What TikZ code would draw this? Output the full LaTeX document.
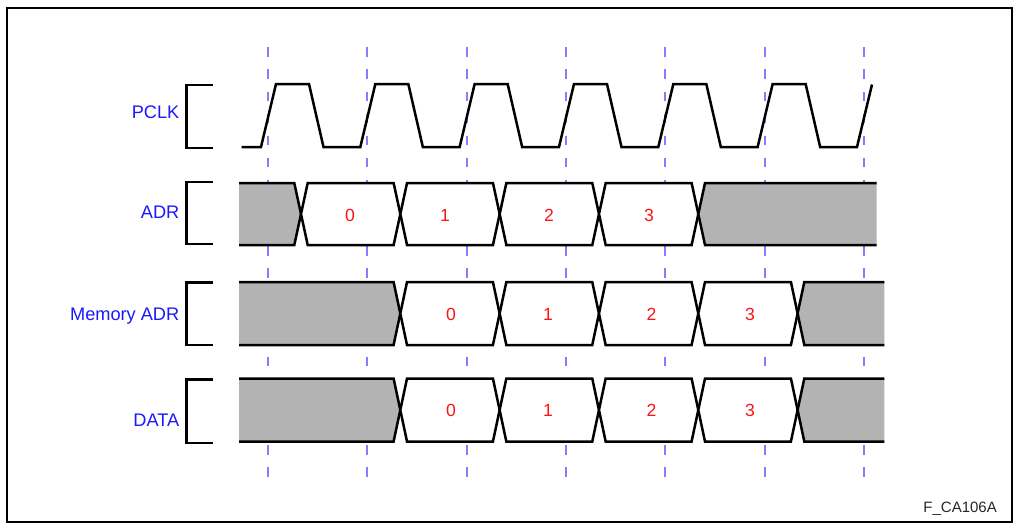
\documentclass[tikz,border=0pt]{standalone}
\usepackage{fontspec}
\setmainfont{Liberation Sans}
\definecolor{dashblue}{RGB}{128,128,255}
\definecolor{lblblue}{RGB}{25,25,250}
\definecolor{busgray}{RGB}{179,179,179}
\definecolor{digred}{RGB}{250,20,20}
\begin{document}
\begin{tikzpicture}[x=1pt,y=-1pt,
  sig/.style={line width=2.5pt,line join=miter,black},
  brk/.style={line width=2.6pt,black},
  dashline/.style={line width=2pt,dashblue,dash pattern=on 9.5pt off 12.6pt},
  lbl/.style={anchor=base east,inner sep=0pt,text=lblblue,font=\fontsize{18.2}{20}\selectfont},
  dig/.style={anchor=base,inner sep=0pt,text=digred,font=\fontsize{17.6}{20}\selectfont},
  frame/.style={line width=2pt,black}]
\useasboundingbox (0,0) rectangle (1013,523);
\draw[frame] (6.5,7.5) rectangle (1011.8,521.8);
% dashed clock-edge markers
\foreach \k in {0,...,6}{
  \draw[dashline] ({268+99.33*\k},47.3) -- ({268+99.33*\k},477);
}
% brackets
\foreach \yt/\yb in {85/148, 182/244, 282.7/345, 379.3/443}{
  \draw[brk] (213,\yt) -- (186.3,\yt) -- (186.3,\yb) -- (213,\yb);
}
% labels
\node[lbl] (pclk) at (179.5,118.3) {PCLK};
\node[lbl] (adr) at (179.5,218.3) {ADR};
\node[lbl] (madr) at (179.5,320) {Memory ADR};
\node[lbl] (data) at (179.5,426) {DATA};
% clock
\draw[sig] (241.7,147) \foreach \k in {0,...,5}{
  -- ({268+99.33*\k-7},147) -- ({268+99.33*\k+8},84) -- ({268+99.33*\k+41},84) -- ({268+99.33*\k+55.5},147)}
  -- (857,147) -- (872,84.5);
% ---------- ADR bus ----------
\def\h{6.7}
% leading gray
\fill[busgray] (239,183) -- (301-\h,183) -- (301,214) -- (301-\h,245) -- (239,245) -- cycle;
\draw[sig] (239,183) -- (301-\h,183) -- (301,214) -- (301-\h,245) -- (239,245);
\foreach \j/\d/\dx in {0/0/350,1/1/445,2/2/549,3/3/649}{
  \pgfmathsetmacro\ca{301+99.33*\j}
  \pgfmathsetmacro\cb{301+99.33*(\j+1)}
  \filldraw[sig,fill=white] (\ca,214) -- (\ca+\h,183) -- (\cb-\h,183) -- (\cb,214) -- (\cb-\h,245) -- (\ca+\h,245) -- cycle;
  \node[dig] (adr\d) at (\dx,221.7) {\d};
}
% trailing gray
\fill[busgray] (876.7,183) -- (698.3+\h,183) -- (698.3,214) -- (698.3+\h,245) -- (876.7,245) -- cycle;
\draw[sig] (876.7,183) -- (698.3+\h,183) -- (698.3,214) -- (698.3+\h,245) -- (876.7,245);
% ---------- Memory ADR and DATA buses ----------
\foreach \nm/\yt/\ym/\yb/\yd in {m/282/313.5/345/320, d/378.5/410/441.5/416.7}{
  \fill[busgray] (239,\yt) -- (400.3-\h,\yt) -- (400.3,\ym) -- (400.3-\h,\yb) -- (239,\yb) -- cycle;
  \draw[sig] (239,\yt) -- (400.3-\h,\yt) -- (400.3,\ym) -- (400.3-\h,\yb) -- (239,\yb);
  \foreach \j/\d/\dx in {0/0/451,1/1/548,2/2/651.5,3/3/750}{
    \pgfmathsetmacro\ca{400.3+99.33*\j}
    \pgfmathsetmacro\cb{400.3+99.33*(\j+1)}
    \filldraw[sig,fill=white] (\ca,\ym) -- (\ca+\h,\yt) -- (\cb-\h,\yt) -- (\cb,\ym) -- (\cb-\h,\yb) -- (\ca+\h,\yb) -- cycle;
    \node[dig] (\nm\d) at (\dx,\yd) {\d};
  }
  \fill[busgray] (884.3,\yt) -- (797.6+\h,\yt) -- (797.6,\ym) -- (797.6+\h,\yb) -- (884.3,\yb) -- cycle;
  \draw[sig] (884.3,\yt) -- (797.6+\h,\yt) -- (797.6,\ym) -- (797.6+\h,\yb) -- (884.3,\yb);
}
% figure id
\node[anchor=base east,inner sep=0pt,text=black!85,font=\fontsize{15}{17}\selectfont] (fid) at (997,512.3) {F\_CA106A};
\end{tikzpicture}
\end{document}
